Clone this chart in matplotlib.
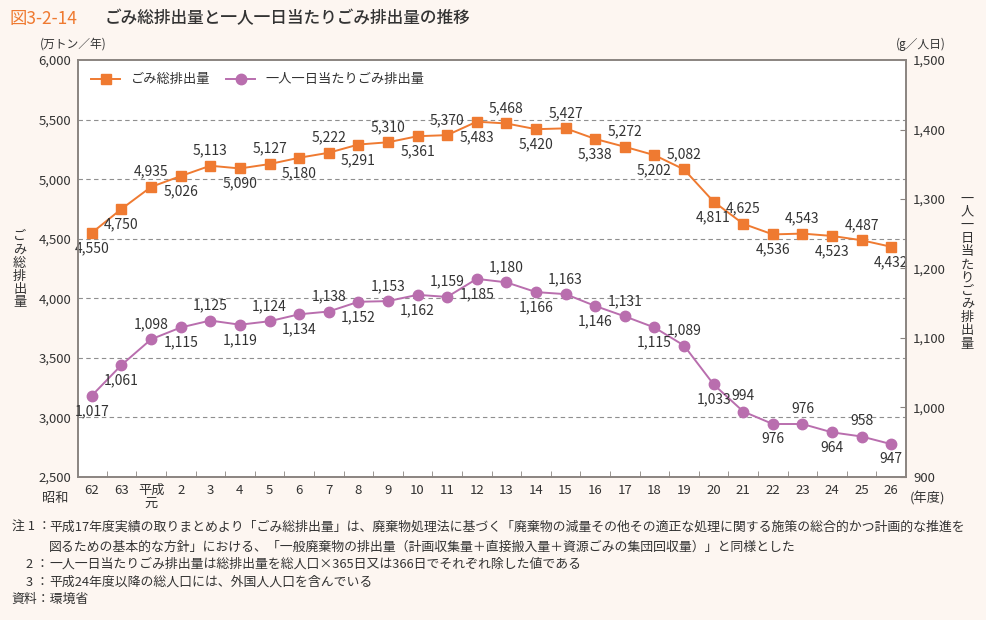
import matplotlib.pyplot as plt
from matplotlib.lines import Line2D

plt.rcParams['font.family'] = ['Noto Sans CJK JP', 'DejaVu Sans']

# data
years = ['62', '63', '平成\n元', '2', '3', '4', '5', '6', '7', '8', '9', '10', '11', '12',
         '13', '14', '15', '16', '17', '18', '19', '20', '21', '22', '23', '24', '25', '26']
total = [4550, 4750, 4935, 5026, 5113, 5090, 5127, 5180, 5222, 5291, 5310, 5361, 5370, 5483,
         5468, 5420, 5427, 5338, 5272, 5202, 5082, 4811, 4625, 4536, 4543, 4523, 4487, 4432]
per_person = [1017, 1061, 1098, 1115, 1125, 1119, 1124, 1134, 1138, 1152, 1153, 1162, 1159, 1185,
              1180, 1166, 1163, 1146, 1131, 1115, 1089, 1033, 994, 976, 976, 964, 958, 947]
# label above (1) or below (-1) each point
total_pos = [-1, -1, 1, -1, 1, -1, 1, -1, 1, -1, 1, -1, 1, -1,
             1, -1, 1, -1, 1, -1, 1, -1, 1, -1, 1, -1, 1, -1]
person_pos = [-1, -1, 1, -1, 1, -1, 1, -1, 1, -1, 1, -1, 1, -1,
              1, -1, 1, -1, 1, -1, 1, -1, 1, -1, 1, -1, 1, -1]

orange = '#ef7a31'
purple = '#b96eae'
txt = '#333333'
bg = '#fdf6f1'
spine = '#8a8480'

fig = plt.figure(figsize=(9.87, 6.2), dpi=100, facecolor=bg)
ax = fig.add_axes([0.079, 0.231, 0.839, 0.672])
ax.set_facecolor('white')
ax2 = ax.twinx()

x = list(range(len(years)))

ax.plot(x, total, color=orange, lw=1.4, marker='s', ms=7.5, zorder=3)
ax2.plot(x, per_person, color=purple, lw=1.4, marker='o', ms=7.5, zorder=3)

for i, v in enumerate(total):
    ax.annotate(f'{v:,}', (i, v), textcoords='offset points', xytext=(0, 11 * total_pos[i]),
                ha='center', va='center', fontsize=10, color=txt)
for i, v in enumerate(per_person):
    ax2.annotate(f'{v:,}', (i, v), textcoords='offset points', xytext=(0, 11 * person_pos[i]),
                 ha='center', va='center', fontsize=10, color=txt)

ax.set_xlim(-0.47, 27.5)
ax.set_ylim(2500, 6000)
ax2.set_ylim(900, 1500)

ax.set_yticks(range(2500, 6001, 500))
ax.set_yticklabels([f'{v:,}' for v in range(2500, 6001, 500)], fontsize=9.5, color=txt)
ax2.set_yticks(range(900, 1501, 100))
ax2.set_yticklabels([f'{v:,}' for v in range(900, 1501, 100)], fontsize=9.5, color=txt)
ax.tick_params(axis='y', length=0, pad=5)
ax2.tick_params(axis='y', direction='in', length=4, color=spine, pad=5)

for v in range(3000, 5501, 500):
    ax.axhline(v, color='#8f8f8f', lw=0.8, ls=(0, (4, 3)), zorder=1)

ax.set_xticks(x)
ax.set_xticklabels(years, fontsize=9.5, color=txt, linespacing=1.0, va='top')
ax.set_xticks([i + 0.5 for i in range(len(years) - 1)], minor=True)
ax.tick_params(axis='x', which='major', length=0, pad=5)
ax.tick_params(axis='x', which='minor', direction='in', length=4, color=spine)

for a in (ax, ax2):
    for s in a.spines.values():
        s.set_color(spine)
        s.set_linewidth(1.2)

# extra axis text
fig.text(0.069, 0.207, '昭和', fontsize=9.5, color=txt, ha='right', va='top')
fig.text(0.922, 0.207, '(年度)', fontsize=9.5, color=txt, ha='left', va='top')
fig.text(0.040, 0.929, '(万トン／年)', fontsize=8.5, color=txt, ha='left', va='center')
fig.text(0.958, 0.929, '(g／人日)', fontsize=8.5, color=txt, ha='right', va='center')
fig.text(0.020, 0.565, '\n'.join('ごみ総排出量'), fontsize=9.5, color=txt,
         ha='center', va='center', linespacing=1.02)
fig.text(0.980, 0.562, '\n'.join('一人一日当たりごみ排出量'), fontsize=9.5, color=txt,
         ha='center', va='center', linespacing=1.02)

# legend
handles = [Line2D([], [], color=orange, lw=1.4, marker='s', ms=7.5),
           Line2D([], [], color=purple, lw=1.4, marker='o', ms=7.5)]
ax2.legend(handles, ['ごみ総排出量', '一人一日当たりごみ排出量'], loc='upper left', ncol=2,
           frameon=False, fontsize=9.5, bbox_to_anchor=(0.0, 1.0), handlelength=2.2,
           columnspacing=1.2, borderaxespad=0.6, labelcolor=txt)

# title
fig.text(0.010, 0.970, '図3-2-14', fontsize=12.5, color=orange, ha='left', va='center')
fig.text(0.106, 0.970, 'ごみ総排出量と一人一日当たりごみ排出量の推移', fontsize=12,
         color=txt, ha='left', va='center', fontweight='medium')

# notes
notes = [
    (0.012, 0.150, '注 1 ：'),
    (0.050, 0.150, '平成17年度実績の取りまとめより「ごみ総排出量」は、廃棄物処理法に基づく「廃棄物の減量その他その適正な処理に関する施策の総合的かつ計画的な推進を'),
    (0.050, 0.118, '図るための基本的な方針」における、「一般廃棄物の排出量（計画収集量＋直接搬入量＋資源ごみの集団回収量）」と同様とした'),
    (0.026, 0.090, '2 ：'),
    (0.050, 0.090, '一人一日当たりごみ排出量は総排出量を総人口×365日又は366日でそれぞれ除した値である'),
    (0.026, 0.061, '3 ：'),
    (0.050, 0.061, '平成24年度以降の総人口には、外国人人口を含んでいる'),
    (0.012, 0.034, '資料：環境省'),
]
for nx, ny, s in notes:
    fig.text(nx, ny, s, fontsize=9.3, color=txt, ha='left', va='center')

fig.savefig('out.png', dpi=100, facecolor=bg)
